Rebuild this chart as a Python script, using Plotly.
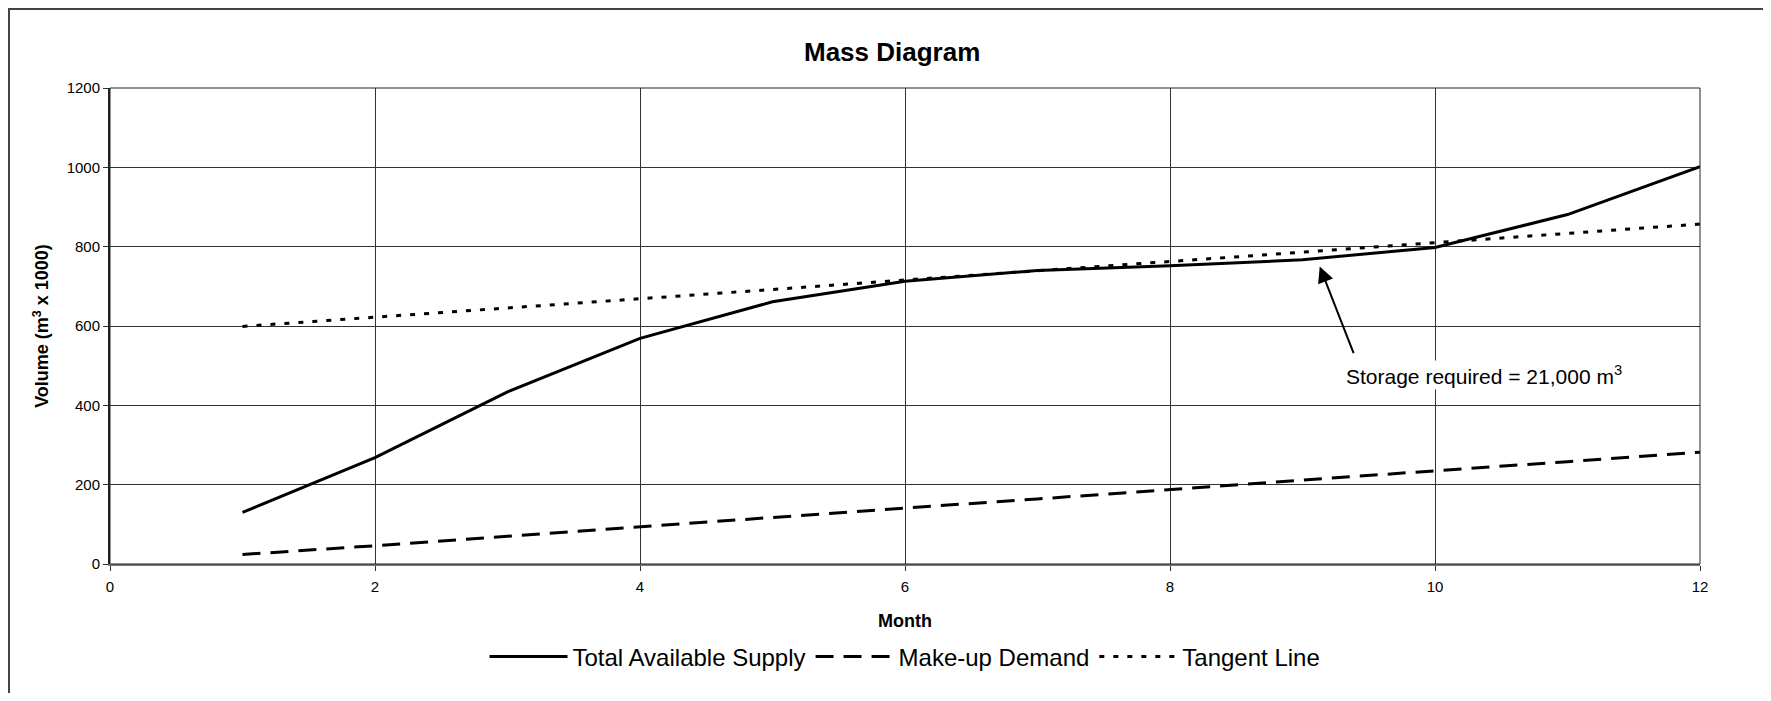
import plotly.graph_objects as go

months = [1, 2, 3, 4, 5, 6, 7, 8, 9, 10, 11, 12]
supply = [130, 268, 434, 569, 661, 713, 740, 752, 767, 798, 881, 1002]
demand = [24, 46, 70, 94, 117, 141, 164, 188, 211, 235, 258, 282]
tangent = [599, 622, 646, 669, 692, 716, 739, 763, 786, 810, 833, 857]

x_ticks = [0, 2, 4, 6, 8, 10, 12]
y_ticks = [0, 200, 400, 600, 800, 1000, 1200]

FONT = "Liberation Sans, Arial, sans-serif"

OFF = 8  # page body offset
W, H = 1755, 685
ML, MR, MT, MB = 102, 63, 80, 129
PW = W - ML - MR
PH = H - MT - MB

def px_x(p):
    return (p - OFF - ML) / PW

def px_y(p):
    return (H - MB - (p - OFF)) / PH

fig = go.Figure()
fig.add_trace(go.Scatter(x=months, y=supply, mode="lines", name="Total Available Supply",
                         line=dict(color="black", width=3)))
fig.add_trace(go.Scatter(x=months, y=demand, mode="lines", name="Make-up Demand",
                         line=dict(color="black", width=3, dash="18px,10px")))
fig.add_trace(go.Scatter(x=months, y=tangent, mode="lines", name="Tangent Line",
                         line=dict(color="black", width=3, dash="5px,9px")))

fig.update_layout(
    width=W, height=H,
    margin=dict(l=ML, r=MR, t=MT, b=MB),
    paper_bgcolor="white", plot_bgcolor="white",
    font=dict(family=FONT, color="black"),
    showlegend=True,
    legend=dict(orientation="h", x=0.5, xanchor="center", y=px_y(657), yanchor="middle",
                font=dict(size=24, family=FONT), itemwidth=78, traceorder="normal",
                bgcolor="rgba(0,0,0,0)"),
    xaxis=dict(range=[0, 12], tickvals=x_ticks, ticktext=[str(v) for v in x_ticks],
               showgrid=True, gridcolor="#333", gridwidth=1, zeroline=False,
               showline=True, linecolor="#777", linewidth=2, mirror=False,
               ticks="outside", ticklen=5, tickcolor="#333", ticklabelstandoff=3,
               tickfont=dict(size=15, family=FONT),
               title=dict(text="<b>Month</b>", font=dict(size=18, family=FONT), standoff=20)),
    yaxis=dict(range=[0, 1200], tickvals=y_ticks, ticktext=[str(v) for v in y_ticks],
               showgrid=True, gridcolor="#333", gridwidth=1, zeroline=False,
               showline=True, linecolor="#222", linewidth=2,
               ticks="outside", ticklen=5, tickcolor="#333",
               tickfont=dict(size=15, family=FONT),
               title=dict(text="<b>Volume (m<sup>3</sup> x 1000)</b>", font=dict(size=18, family=FONT), standoff=13)),
)

# plot frame top/right
fig.add_shape(type="rect", xref="paper", yref="paper", x0=0, x1=1, y0=0, y1=1,
              line=dict(color="#222", width=1), layer="above")
# outer chart border (as close to the page edge as the figure allows)
fig.add_shape(type="rect", xref="paper", yref="paper", x0=px_x(OFF + 1), x1=px_x(1800),
              y0=px_y(730), y1=px_y(OFF + 1), line=dict(color="#444", width=2))

# title
fig.add_annotation(text="<b>Mass Diagram</b>", xref="paper", yref="paper",
                   x=px_x(892), y=px_y(52), xanchor="center", yanchor="middle",
                   showarrow=False, font=dict(size=26, family=FONT, color="black"))

# storage annotation arrow
fig.add_annotation(x=9.13, y=750, ax=9.39, ay=528, xref="x", yref="y", axref="x", ayref="y",
                   text="", showarrow=True, arrowhead=2, arrowsize=1.6, arrowwidth=2,
                   arrowcolor="black")
fig.add_annotation(x=10.37, y=477, xref="x", yref="y", text="Storage required = 21,000 m<sup>3</sup>",
                   showarrow=False, xanchor="center", yanchor="middle",
                   font=dict(size=21, family=FONT, color="black"), bgcolor="white")

fig.write_html("out.html")
